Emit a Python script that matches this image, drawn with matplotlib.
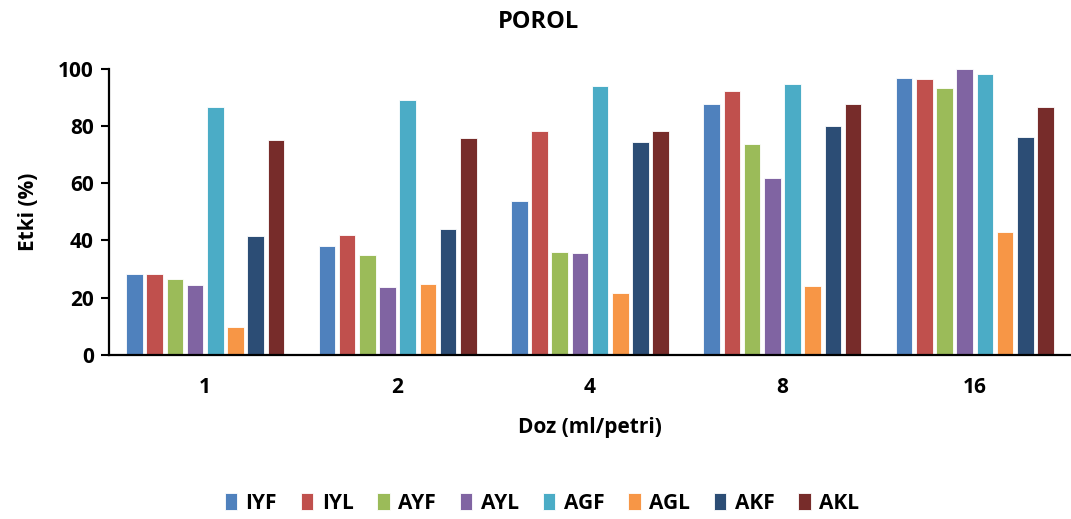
import matplotlib.pyplot as plt
import numpy as np

doses = ["1", "2", "4", "8", "16"]
series = ["IYF", "IYL", "AYF", "AYL", "AGF", "AGL", "AKF", "AKL"]
colors = ["#4f81bd", "#c0504d", "#9bbb59", "#8064a2",
          "#4bacc6", "#f79646", "#2c4d75", "#772c2a"]

IYF = [28.1, 38.0, 53.7, 87.6, 96.7]
IYL = [28.1, 41.9, 78.3, 92.3, 96.4]
AYF = [26.5, 35.0, 35.9, 73.9, 93.3]
AYL = [24.4, 23.7, 35.7, 61.7, 99.9]
AGF = [86.8, 89.1, 94.0, 94.7, 98.1]
AGL = [9.8, 24.7, 21.7, 23.9, 42.8]
AKF = [41.5, 43.9, 74.3, 79.9, 76.2]
AKL = [75.1, 75.8, 78.3, 87.6, 86.6]
values = [IYF, IYL, AYF, AYL, AGF, AGL, AKF, AKL]

plt.rcParams["font.family"] = ["Open Sans", "DejaVu Sans"]
plt.rcParams["font.weight"] = "bold"

fig = plt.figure(figsize=(10.71, 5.19), dpi=100)
ax = fig.add_axes([109 / 1071, 1 - 354.7 / 519, 1 - 109 / 1071, (354.7 - 69) / 519])

x = np.arange(len(doses))
pitch = 0.105
width = 0.087
for i, (name, vals) in enumerate(zip(series, values)):
    ax.bar(x + (i - 3.5) * pitch, vals, width, color=colors[i], label=name,
           edgecolor="white", linewidth=0.6)

ax.set_xlim(-0.5, 4.5)
ax.set_ylim(0, 100)
ax.set_yticks(range(0, 101, 20))
ax.set_xticks(x)
ax.set_xticklabels(doses)
ax.tick_params(axis="x", length=0, pad=16, labelsize=15)
ax.tick_params(axis="y", length=6, width=1.5, labelsize=15, pad=5)
for s in ["top", "right"]:
    ax.spines[s].set_visible(False)
for s in ["left", "bottom"]:
    ax.spines[s].set_linewidth(1.6)

fig.suptitle("POROL", x=0.503, y=0.958, va="center", fontsize=17, fontweight="bold")
ax.set_ylabel("Etki (%)", fontsize=15, fontweight="bold", labelpad=14)
ax.set_xlabel("Doz (ml/petri)", fontsize=15, fontweight="bold", labelpad=14)

ax.legend(loc="center", bbox_to_anchor=(0.45, -0.52), ncol=8, frameon=False,
          fontsize=15, handlelength=0.6, handleheight=0.85, handletextpad=0.4,
          columnspacing=1.15)

fig.savefig("out.png", dpi=100)
